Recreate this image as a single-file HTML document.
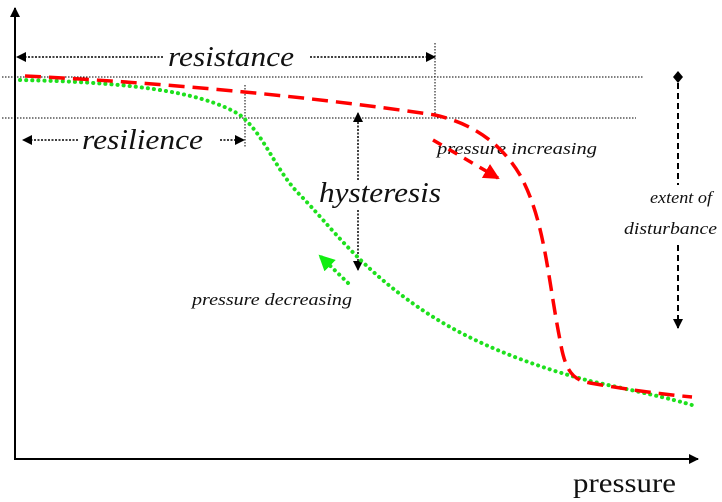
<!DOCTYPE html>
<html><head><meta charset="utf-8"><style>
html,body{margin:0;padding:0;background:#fff;}
svg{display:block;}
text{font-family:"Liberation Serif",serif;font-style:italic;fill:#111;}
</style></head><body>
<svg width="722" height="502" viewBox="0 0 722 502" xmlns="http://www.w3.org/2000/svg">
<defs>
<marker id="ab" markerWidth="10" markerHeight="10" refX="9" refY="5" orient="auto" markerUnits="userSpaceOnUse"><path d="M0,0 L10,5 L0,10 Z" fill="#000"/></marker>
<marker id="ar" markerWidth="16" markerHeight="16" refX="14" refY="8" orient="auto" markerUnits="userSpaceOnUse"><path d="M0,0 L16,8 L0,16 Z" fill="#f00"/></marker>
<marker id="ag" markerWidth="16" markerHeight="16" refX="14" refY="8" orient="auto" markerUnits="userSpaceOnUse"><path d="M0,0 L16,8 L0,16 Z" fill="#1e1"/></marker>
</defs>
<line x1="15" y1="460" x2="15" y2="8" stroke="#000" stroke-width="2" marker-end="url(#ab)"/>
<line x1="15" y1="459" x2="698" y2="459" stroke="#000" stroke-width="2" marker-end="url(#ab)"/>
<text x="573" y="492" font-size="27" textLength="103" lengthAdjust="spacingAndGlyphs" style="font-style:normal">pressure</text>
<g stroke="#000" stroke-width="1" stroke-dasharray="1.5,1.5" fill="none">
<line x1="2" y1="77" x2="643" y2="77"/>
<line x1="2" y1="118" x2="636" y2="118"/>
<line x1="245" y1="85" x2="245" y2="147"/>
<line x1="435" y1="43" x2="435" y2="118"/>
</g>
<g stroke="#000" stroke-width="1.5" stroke-dasharray="2,1.5" fill="none">
<line x1="163" y1="57" x2="17" y2="57" marker-end="url(#ab)"/>
<line x1="310" y1="57" x2="435" y2="57" marker-end="url(#ab)"/>
<line x1="78" y1="140" x2="23" y2="140" marker-end="url(#ab)"/>
<line x1="220" y1="140" x2="244" y2="140" marker-end="url(#ab)"/>
<line x1="358" y1="180" x2="358" y2="113" marker-end="url(#ab)"/>
<line x1="358" y1="210" x2="358" y2="270" marker-end="url(#ab)"/>
</g>
<text x="168" y="66" font-size="28" textLength="126" lengthAdjust="spacingAndGlyphs">resistance</text>
<text x="82" y="149" font-size="28" textLength="121" lengthAdjust="spacingAndGlyphs">resilience</text>
<text x="319" y="202" font-size="28" textLength="122" lengthAdjust="spacingAndGlyphs">hysteresis</text>
<text x="437" y="154" font-size="17" textLength="160" lengthAdjust="spacingAndGlyphs">pressure increasing</text>
<text x="192" y="305" font-size="17" textLength="160" lengthAdjust="spacingAndGlyphs">pressure decreasing</text>
<text x="650" y="203" font-size="17" textLength="62" lengthAdjust="spacingAndGlyphs">extent of</text>
<text x="624" y="234" font-size="17" textLength="93" lengthAdjust="spacingAndGlyphs">disturbance</text>
<path d="M678,71 L683,77 L678,83 L673,77 Z" fill="#000"/>
<line x1="678" y1="83" x2="678" y2="185" stroke="#000" stroke-width="2" stroke-dasharray="6,4"/>
<line x1="678" y1="245" x2="678" y2="328" stroke="#000" stroke-width="2" stroke-dasharray="6,4" marker-end="url(#ab)"/>
<path d="M20,80 C120,82 200,90 240,115 C265,135 275,170 300,195 C330,225 360,270 430,315 C480,347 540,368 590,381 C630,390 670,398 695,406" fill="none" stroke="#1ee01e" stroke-width="4" stroke-dasharray="0.1,6" stroke-linecap="round"/>
<path d="M25,76 C150,82 300,95 435,115 C480,125 505,150 520,175 C545,220 548,280 560,340 C565,370 572,380 590,383 C630,390 660,394 692,397" fill="none" stroke="#f00" stroke-width="3.5" stroke-dasharray="16,8"/>
<line x1="433" y1="140" x2="498" y2="178" stroke="#f00" stroke-width="3.5" stroke-dasharray="10,8" marker-end="url(#ar)"/>
<line x1="348" y1="283" x2="320" y2="256" stroke="#1ee01e" stroke-width="4" stroke-dasharray="0.1,6" stroke-linecap="round" marker-end="url(#ag)"/>
</svg>
</body></html>
